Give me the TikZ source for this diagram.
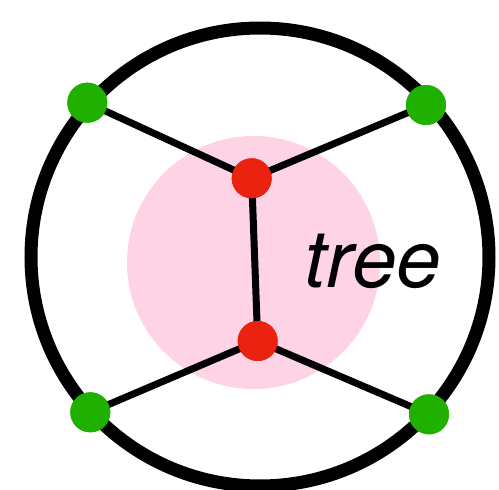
\documentclass[tikz,border=0pt]{standalone}
\usepackage{fontspec}
\setmainfont{TeX Gyre Heros}
\definecolor{leafgreen}{RGB}{32,176,0}
\definecolor{innerred}{RGB}{236,34,16}
\definecolor{softpink}{RGB}{255,211,230}
\begin{document}
\begin{tikzpicture}[x=1pt,y=-1pt,
  leaf/.style={circle,fill=leafgreen,minimum size=40pt,inner sep=0pt},
  inner/.style={circle,fill=innerred,minimum size=40pt,inner sep=0pt},
  edge/.style={line width=7pt}]
\useasboundingbox (0,0) rectangle (499,490);
\fill[softpink] (253.5,262.5) circle (126.5);
\draw[line width=13pt] (260,257) circle (229);
\node[inner] (u) at (251.7,178.3) {};
\node[inner] (v) at (257.7,341) {};
\node[leaf] (a) at (87.3,102.7) {};
\node[leaf] (b) at (426,105) {};
\node[leaf] (c) at (90.3,412.3) {};
\node[leaf] (d) at (429,414.3) {};
\draw[edge] (a.center) -- (u.center) -- (b.center);
\draw[edge] (u.center) -- (v.center);
\draw[edge] (c.center) -- (v.center) -- (d.center);
\node[inner] at (u) {};
\node[inner] at (v) {};
\node[leaf] at (a) {};
\node[leaf] at (b) {};
\node[leaf] at (c) {};
\node[leaf] at (d) {};
\node[anchor=base,font=\fontsize{80}{80}\selectfont\itshape,inner sep=0pt] (t) at (373,287) {tree};
\end{tikzpicture}
\end{document}
